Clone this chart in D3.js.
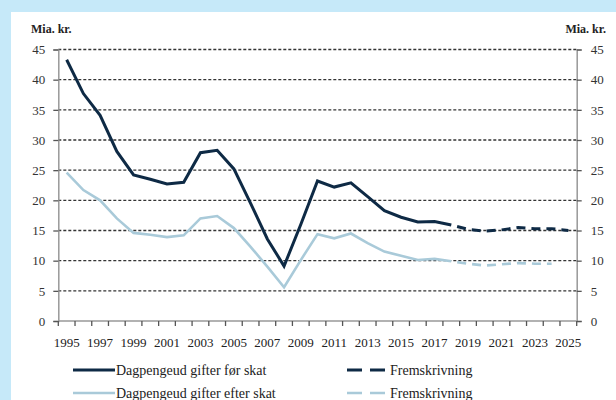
<!DOCTYPE html>
<html>
<head>
<meta charset="utf-8">
<script src="https://cdn.jsdelivr.net/npm/d3@7"></script>
<style>
  body { margin: 0; background: #c6e9f9; }
  svg { display: block; }
</style>
</head>
<body>
<div id="chart"></div>
<script>
'use strict';

const serif = "'Liberation Serif', 'Times New Roman', Times, 'DejaVu Serif', serif";

// years on the category axis
const years = [1995, 1996, 1997, 1998, 1999, 2000, 2001, 2002, 2003, 2004, 2005,
  2006, 2007, 2008, 2009, 2010, 2011, 2012, 2013, 2014, 2015, 2016, 2017, 2018,
  2019, 2020, 2021, 2022, 2023, 2024, 2025];
const yTicks = [0, 5, 10, 15, 20, 25, 30, 35, 40, 45];

// historic values 1995-2018
const histYears = years.slice(0, 24);
const beforeTax = [43.3, 37.7, 34.1, 28.1, 24.2, 23.5, 22.7, 23.0, 27.9, 28.3, 25.2,
  19.5, 13.6, 9.1, 16.0, 23.2, 22.2, 22.9, 20.6, 18.3, 17.2, 16.4, 16.5, 15.9];
const afterTax = [24.6, 21.7, 20.0, 17.0, 14.6, 14.3, 13.9, 14.2, 17.0, 17.4, 15.4,
  12.3, 9.0, 5.6, 10.1, 14.4, 13.7, 14.5, 12.9, 11.5, 10.8, 10.1, 10.3, 9.9];

// projections
const projYearsBefore = [2018, 2019, 2020, 2021, 2022, 2023, 2024, 2025];
const projBefore = [15.9, 15.2, 14.9, 15.1, 15.5, 15.3, 15.3, 15.0];
const projYearsAfter = [2018, 2019, 2020, 2021, 2022, 2023, 2024];
const projAfter = [9.9, 9.5, 9.2, 9.4, 9.6, 9.5, 9.5];

const dark = "#0e2a45", light = "#a9cad9";

const W = 616, H = 400;
const mLeft = 58.3, mRight = 576.7, mTop = 49.5, mBottom = 321;

const svg = d3.select("#chart").append("svg")
  .attr("width", W).attr("height", H)
  .style("font-family", serif);

// white panel
svg.append("rect").attr("x", 11).attr("y", 12)
  .attr("width", W - 11).attr("height", H - 12).attr("fill", "#fff");

let x = d3.scaleBand().domain(years).range([mLeft, mRight]).padding(0);
let y = d3.scaleLinear().domain([0, 45]).range([mBottom, mTop]);
const cx = d => x(d) + x.bandwidth() / 2;

// gridlines
svg.append("g").selectAll("line")
  .data(yTicks.filter(d => d > 0))
  .enter().append("line")
  .attr("x1", mLeft).attr("x2", mRight)
  .attr("y1", d => y(d)).attr("y2", d => y(d))
  .attr("stroke", "#333").attr("stroke-width", 1.3)
  .attr("stroke-dasharray", "3,2");

// left axis
let yl = svg.append("g").attr("transform", "translate(" + mLeft + ",0)")
  .call(d3.axisLeft(y).tickValues(yTicks).tickSize(5).tickPadding(8));
// right axis
let yr = svg.append("g").attr("transform", "translate(" + mRight + ",0)")
  .call(d3.axisRight(y).tickValues(yTicks).tickSize(5).tickPadding(9));
[yl, yr].forEach(g => {
  g.attr("font-family", serif).attr("font-size", 13);
  g.select(".domain").attr("stroke", "#999").attr("stroke-width", 1.5);
  g.selectAll(".tick line").attr("stroke", "#555").attr("stroke-width", 1.3);
  g.selectAll(".tick text").attr("fill", "#333");
});

// x axis with ticks at category boundaries
let xg = svg.append("g").attr("transform", "translate(0," + mBottom + ")");
xg.append("line").attr("x1", mLeft).attr("x2", mRight)
  .attr("stroke", "#999").attr("stroke-width", 1.5);
xg.selectAll(".xt").data(years.concat([null]))
  .enter().append("line").attr("class", "xt")
  .attr("x1", (d, i) => i < years.length ? x(d) : mRight)
  .attr("x2", (d, i) => i < years.length ? x(d) : mRight)
  .attr("y1", 0).attr("y2", 5)
  .attr("stroke", "#555").attr("stroke-width", 1.3);
xg.selectAll("text").data(years.filter((d, i) => i % 2 === 0))
  .enter().append("text")
  .attr("x", d => cx(d)).attr("y", 26)
  .attr("text-anchor", "middle")
  .attr("fill", "#222")
  .style("font-size", "13px")
  .text(d => d);

// unit labels
svg.append("text").attr("x", 31).attr("y", 33).attr("fill", "#222")
  .style("font-size", "12px").style("font-weight", "bold").text("Mia. kr.");
svg.append("text").attr("x", 606).attr("y", 33).attr("text-anchor", "end").attr("fill", "#222")
  .style("font-size", "12px").style("font-weight", "bold").text("Mia. kr.");

const line = d3.line().x(d => cx(d[0])).y(d => y(d[1]));

svg.append("path").datum(d3.zip(histYears, afterTax))
  .attr("d", line).attr("fill", "none").attr("stroke", light).attr("stroke-width", 2.6);
svg.append("path").datum(d3.zip(projYearsAfter, projAfter))
  .attr("d", line).attr("fill", "none").attr("stroke", light).attr("stroke-width", 2.6)
  .attr("stroke-dasharray", "9,6").attr("stroke-dashoffset", -6);
svg.append("path").datum(d3.zip(histYears, beforeTax))
  .attr("d", line).attr("fill", "none").attr("stroke", dark).attr("stroke-width", 3);
svg.append("path").datum(d3.zip(projYearsBefore, projBefore))
  .attr("d", line).attr("fill", "none").attr("stroke", dark).attr("stroke-width", 3)
  .attr("stroke-dasharray", "9,6").attr("stroke-dashoffset", -6);

// legend
const legend = [
  {label: "Dagpengeud gifter før skat", color: dark, dash: null, x: 73, y: 370, w: 3},
  {label: "Dagpengeud gifter efter skat", color: light, dash: null, x: 73, y: 393, w: 2.6},
  {label: "Fremskrivning", color: dark, dash: "15,8", x: 347, y: 370, w: 3},
  {label: "Fremskrivning", color: light, dash: "15,8", x: 347, y: 393, w: 2.6}
];
let lg = svg.append("g").selectAll("g").data(legend).enter().append("g");
lg.append("line")
  .attr("x1", d => d.x).attr("x2", d => d.dash ? d.x + 38 : d.x + 42)
  .attr("y1", d => d.y).attr("y2", d => d.y)
  .attr("stroke", d => d.color).attr("stroke-width", d => d.w)
  .attr("stroke-dasharray", d => d.dash);
lg.append("text")
  .attr("x", d => d.x + 43).attr("y", d => d.y + 5)
  .attr("fill", "#222")
  .style("font-size", "14px")
  .text(d => d.label);
</script>
</body>
</html>
